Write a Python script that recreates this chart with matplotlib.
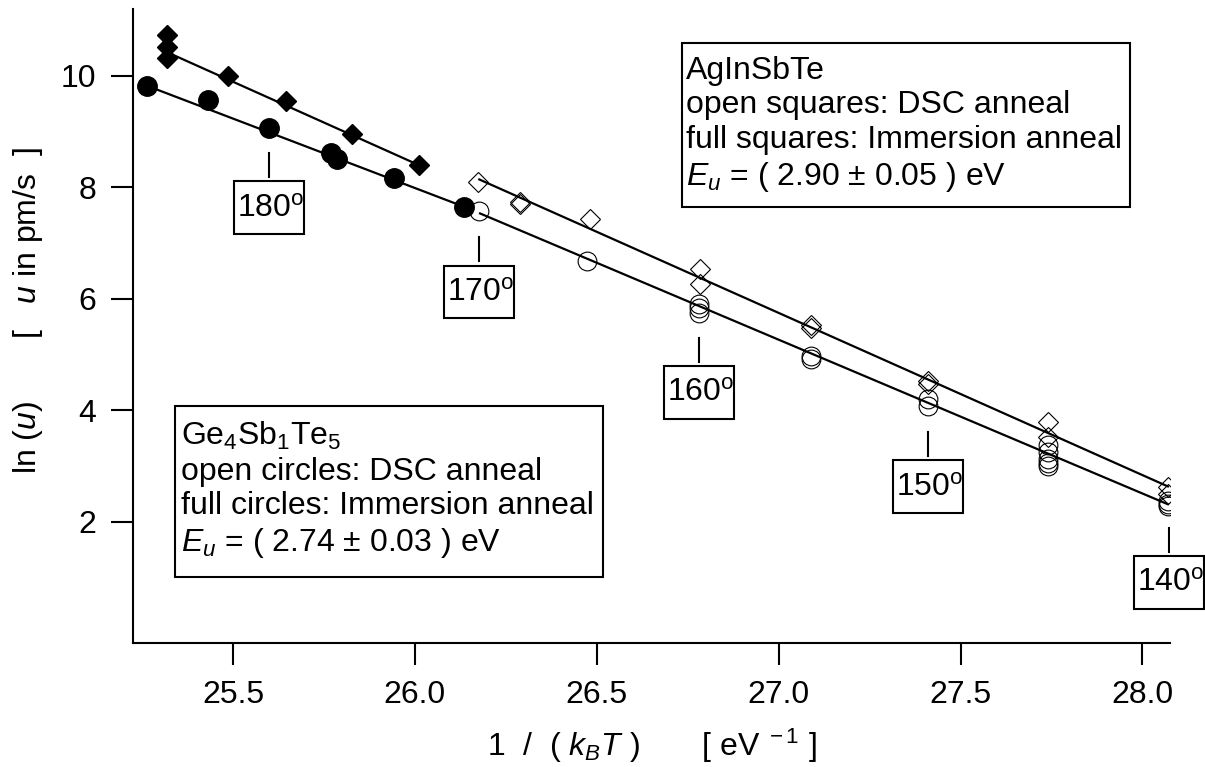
import numpy as np
import matplotlib
matplotlib.use("Agg")
import matplotlib.pyplot as plt
from matplotlib.patches import Rectangle

plt.rcParams['font.family'] = ['Liberation Sans', 'DejaVu Sans']
plt.rcParams['mathtext.fontset'] = 'custom'
plt.rcParams['mathtext.rm'] = 'Liberation Sans'
plt.rcParams['mathtext.it'] = 'Liberation Sans:italic'

FS = 23

# Ge4Sb1Te5, immersion anneal (full circles)
ge_full_x = [25.264, 25.432, 25.599, 25.770, 25.787, 25.943, 26.135]
ge_full_y = [9.81, 9.56, 9.06, 8.62, 8.50, 8.16, 7.65]
# Ge4Sb1Te5, DSC anneal (open circles)
ge_open_x = [26.177, 26.474, 26.78, 26.78, 26.78, 27.09, 27.09, 27.41, 27.41,
             27.74, 27.74, 27.74, 27.74, 27.74, 28.07, 28.07, 28.07]
ge_open_y = [7.58, 6.68, 5.90, 5.83, 5.75, 4.97, 4.92, 4.20, 4.07,
             3.37, 3.25, 3.13, 3.05, 3.00, 2.36, 2.31, 2.27]
# AgInSbTe, immersion anneal (full diamonds)
ag_full_x = [25.318, 25.318, 25.318, 25.485, 25.645, 25.826, 26.01]
ag_full_y = [10.73, 10.52, 10.32, 9.99, 9.54, 8.96, 8.40]
# AgInSbTe, DSC anneal (open diamonds)
ag_open_x = [26.174, 26.29, 26.29, 26.48, 26.785, 26.785, 27.09, 27.09,
             27.41, 27.41, 27.74, 27.74, 28.07, 28.07]
ag_open_y = [8.10, 7.74, 7.70, 7.43, 6.54, 6.27, 5.52, 5.48,
             4.52, 4.46, 3.79, 3.52, 2.62, 2.50]

# fit lines (end points)
ge_full_fit_x = [25.264, 26.135]
ge_full_fit_y = [9.82, 7.65]
ge_open_fit_x = [26.179, 28.07]
ge_open_fit_y = [7.53, 2.31]
ag_full_fit_x = [25.32, 26.01]
ag_full_fit_y = [10.42, 8.40]
ag_open_fit_x = [26.177, 28.07]
ag_open_fit_y = [8.14, 2.63]

# temperature markers
temp_labels = ['180', '170', '160', '150', '140']
temp_x = [25.599, 26.177, 26.782, 27.411, 28.074]
temp_line_top = [8.61, 7.10, 5.30, 3.61, 1.89]

ge_text = ('Ge$_4$Sb$_1$Te$_5$\nopen circles: DSC anneal\n'
           'full circles: Immersion anneal\n$E_u$ = ( 2.74 ± 0.03 ) eV')
ag_text = ('AgInSbTe\nopen squares: DSC anneal\n'
           'full squares: Immersion anneal\n$E_u$ = ( 2.90 ± 0.05 ) eV')

fig = plt.figure(figsize=(12.05, 7.67), dpi=100)
ax = fig.add_axes([0.1104, 0.1617, 0.8606, 0.8266])

for fx, fy in [(ge_full_fit_x, ge_full_fit_y), (ge_open_fit_x, ge_open_fit_y),
               (ag_full_fit_x, ag_full_fit_y), (ag_open_fit_x, ag_open_fit_y)]:
    ax.plot(fx, fy, color='black', lw=1.6, zorder=2)

ax.plot(ge_open_x, ge_open_y, 'o', ms=13.5, mfc='none', mec='black', mew=0.8, zorder=3)
ax.plot(ag_open_x, ag_open_y, 'D', ms=10, mfc='none', mec='black', mew=0.8, zorder=3)
ax.plot(ge_full_x, ge_full_y, 'o', ms=14, color='black', zorder=4)
ax.plot(ag_full_x, ag_full_y, 'D', ms=10, color='black', zorder=4)

bw, bh = 0.1925, 0.95
for lab, tx, ty in zip(temp_labels, temp_x, temp_line_top):
    ax.plot([tx, tx], [ty, ty - 0.43], color='black', lw=1.5)
    yc = ty - 0.98
    ax.add_patch(Rectangle((tx - bw / 2, yc - bh / 2), bw, bh, fc='white', ec='black',
                           lw=1.5, clip_on=False, zorder=5))
    ax.text(tx + 0.003, yc - 0.02, lab + r'$^\mathrm{o}$', fontsize=FS, ha='center',
            va='center', zorder=6)

# Ge4Sb1Te5 box
ax.add_patch(Rectangle((25.3405, 1.005), 26.5176 - 25.3405, 4.075 - 1.005,
                       fc='white', ec='black', lw=1.5, zorder=5))
ax.text(25.357, 2.56, ge_text, fontsize=FS, ha='left', va='center',
        linespacing=1.2, zorder=6)
# AgInSbTe box
ax.add_patch(Rectangle((26.735, 7.65), 27.967 - 26.735, 10.59 - 7.65,
                       fc='white', ec='black', lw=1.5, zorder=5))
ax.text(26.746, 9.12, ag_text, fontsize=FS, ha='left', va='center',
        linespacing=1.2, zorder=6)

ax.set_xlim(25.225, 28.076)
ax.set_ylim(-0.18, 11.2)
ax.set_xticks([25.5, 26.0, 26.5, 27.0, 27.5, 28.0])
ax.set_xticklabels(['25.5', '26.0', '26.5', '27.0', '27.5', '28.0'])
ax.set_yticks([2, 4, 6, 8, 10])
ax.tick_params(axis='both', direction='out', length=16, width=1.5, labelsize=FS, pad=10.5)
ax.spines['top'].set_visible(False)
ax.spines['right'].set_visible(False)
ax.spines['left'].set_linewidth(1.5)
ax.spines['bottom'].set_linewidth(1.5)

ax.set_xlabel(r'1  /  ( $k_BT$ )       [ eV$^{\ -1}$ ]', fontsize=FS, labelpad=12)
ax.set_ylabel(r'ln ($u$)       [   $u$ in pm/s  ]', fontsize=FS)
ax.yaxis.set_label_coords(-0.085, 0.525)

plt.savefig('out.png', dpi=100)
